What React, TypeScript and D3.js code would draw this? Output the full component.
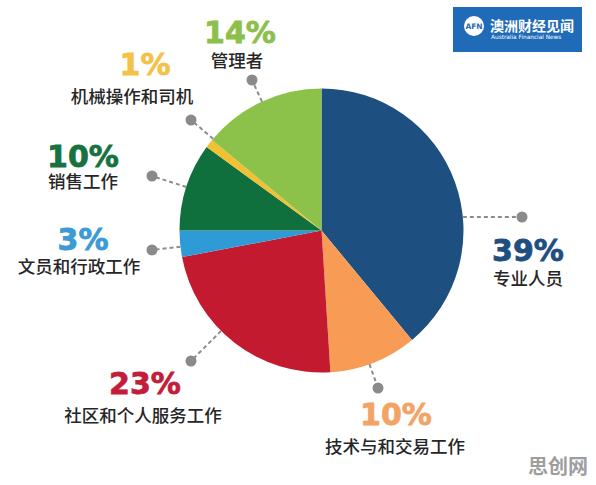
import React from "react";
import * as d3 from "d3";

const categories = ["专业人员", "技术与和交易工作", "社区和个人服务工作", "文员和行政工作", "销售工作", "机械操作和司机", "管理者"];
const values = [39, 10, 23, 3, 10, 1, 14];
const sliceColors = ["#1d4f80", "#f79b55", "#c41a30", "#2e9ad6", "#10703d", "#f2c033", "#8cc24a"];
const labelColors = ["#1e4f80", "#f2a466", "#c41d3b", "#3a9bd5", "#17723f", "#f2c347", "#8dc04b"];

// layout: dot position, percent text center/baseline, name text center/baseline
const layout = [
  { dot: [522, 217], horiz: true, px: 528, py: 261, nx: 528, ny: 285 },
  { dot: [378, 388], horiz: false, px: 396, py: 425, nx: 395, ny: 453 },
  { dot: [191, 361], horiz: false, px: 145, py: 394, nx: 143, ny: 422 },
  { dot: [152, 250], horiz: false, px: 83, py: 250, nx: 79, ny: 273 },
  { dot: [152, 176], horiz: false, px: 83, py: 167, nx: 83, ny: 188 },
  { dot: [191, 120], horiz: false, px: 145, py: 75, nx: 132, ny: 103 },
  { dot: [252, 80], horiz: false, px: 240, py: 43, nx: 237, ny: 67 },
];

const W = 596, H = 485;
const CX = 321.5, CY = 230.5, R = 142;

export default function App() {
  const pie = d3.pie<number>().sort(null).value((d) => d).startAngle(0).endAngle(Math.PI * 2);
  const arcs = pie(values);
  const arc = d3.arc<d3.PieArcDatum<number>>().innerRadius(0).outerRadius(R);
  const cjk = "'Noto Sans CJK SC', 'Noto Sans', sans-serif";
  const num = "'DejaVu Sans', 'Open Sans', sans-serif";
  return (
    <svg width={W} height={H} style={{ position: "absolute", left: 0, top: 0, background: "#fff" }}>
      <rect width={W} height={H} fill="#ffffff" />
      <g transform={`translate(${CX},${CY})`}>
        {arcs.map((a, i) => (
          <path key={i} d={arc(a) || ""} fill={sliceColors[i]} />
        ))}
      </g>
      {layout.map((l, i) => {
        const dx = l.dot[0] - CX, dy = l.dot[1] - CY;
        const len = Math.sqrt(dx * dx + dy * dy);
        let sx = CX + (dx / len) * R, sy = CY + (dy / len) * R;
        if (l.horiz) {
          sy = l.dot[1];
          sx = CX + Math.sign(dx) * Math.sqrt(R * R - dy * dy);
        }
        return (
          <g key={i}>
            <line x1={sx} y1={sy} x2={l.dot[0]} y2={l.dot[1]} stroke="#8c8c8c" strokeWidth={2} strokeDasharray="4,3" />
            <circle cx={l.dot[0]} cy={l.dot[1]} r={5.5} fill="#8a8a8a" />
            <text x={l.px} y={l.py} textAnchor="middle" fontFamily={num} fontWeight="bold" fontSize={30}
              fill={labelColors[i]} stroke={labelColors[i]} strokeWidth={0.8}>
              {values[i]}%
            </text>
            <text x={l.nx} y={l.ny} textAnchor="middle" fontFamily={cjk} fontWeight={500} fontSize={17.5} fill="#262626">
              {categories[i]}
            </text>
          </g>
        );
      })}
      <g>
        <rect x={453} y={7} width={129} height={45} fill="#1f6bb7" />
        <circle cx={474} cy={26} r={10} fill="#ffffff" />
        <text x={474} y={29} textAnchor="middle" fontFamily={num} fontWeight="bold" fontSize={7.5} fill="#1f6bb7">AFN</text>
        <text x={490} y={31} fontFamily={cjk} fontWeight="bold" fontSize={14} fill="#ffffff">澳洲财经见闻</text>
        <text x={491} y={39} fontFamily={num} fontSize={5.8} fill="#ffffff">Australia Financial News</text>
      </g>
      <text x={528} y={474} fontFamily={cjk} fontWeight="bold" fontSize={20} fill="#9e9e9e">思创网</text>
    </svg>
  );
}
